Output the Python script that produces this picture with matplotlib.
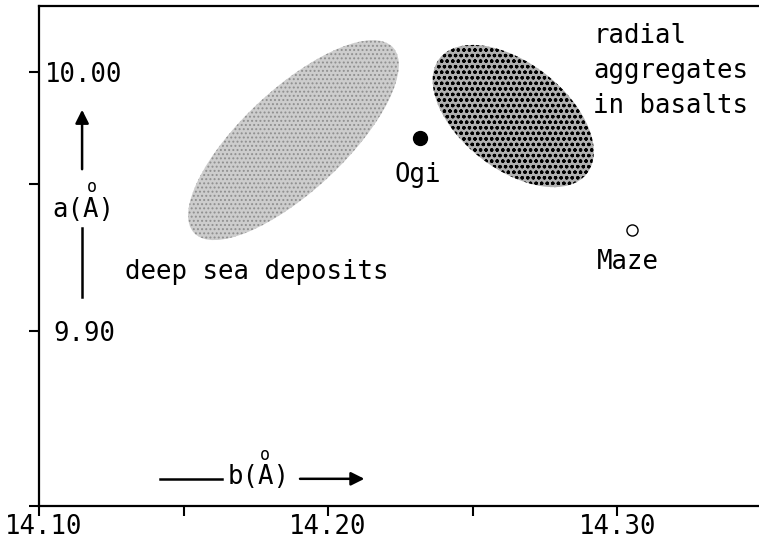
import matplotlib.pyplot as plt
import matplotlib.transforms as mtransforms
from matplotlib.patches import Ellipse

# lattice constants of the named samples, b(A) and a(A)
sample_names = ["Ogi", "Maze"]
sample_b = [14.2318, 14.3052]
sample_a = [9.9745, 9.9390]

# centres of the two shaded fields
field_names = ["deep sea deposits", "radial\naggregates\nin basalts"]
field_b = [14.1880, 14.2640]
field_a = [9.9737, 9.9830]

x_ticks = [14.10, 14.15, 14.20, 14.25, 14.30]
x_labels = ["14.10", "", "14.20", "", "14.30"]
y_ticks = [9.8324, 9.90, 9.9568, 10.00]
y_labels = ["", "9.90", "", "10.00"]

plt.rcParams['font.family'] = ['DejaVu Sans Mono', 'DejaVu Sans']
FS = 18.5


def blob(ax, b, a, w, h, ang, **kw):
    # ellipse sized in inches, centred on a data point
    tr = ax.figure.dpi_scale_trans + mtransforms.ScaledTranslation(b, a, ax.transData)
    e = Ellipse((0, 0), w, h, angle=ang, transform=tr, **kw)
    ax.add_patch(e)
    return e


def main():
    fig = plt.figure(figsize=(7.59, 5.53), dpi=100)
    ax = fig.add_axes([39 / 759, 47 / 553, 1 - 39 / 759, 500 / 553])
    ax.set_xlim(14.10, 14.349)
    ax.set_ylim(9.8324, 10.0255)

    ax.spines['right'].set_visible(False)
    for s in ax.spines.values():
        s.set_linewidth(1.6)

    ax.set_xticks(x_ticks)
    ax.set_xticklabels(x_labels)
    ax.set_yticks(y_ticks)
    ax.set_yticklabels(y_labels)
    ax.tick_params(direction='out', length=7.5, width=1.5, labelsize=FS)
    ax.tick_params(axis='x', pad=-2)
    ax.tick_params(axis='y', pad=-40)
    for lab in ax.get_yticklabels():
        lab.set_ha('center')
    # first x label sits a little right of its tick in the original
    off = mtransforms.ScaledTranslation(0.05, 0, fig.dpi_scale_trans)
    first = ax.get_xticklabels()[0]
    first.set_transform(first.get_transform() + off)

    # shaded fields
    plt.rcParams['hatch.linewidth'] = 0.9
    blob(ax, field_b[0], field_a[0], 2.72, 1.02, 43,
         facecolor='#cdcdcd', edgecolor='#8f8f8f', hatch='....', lw=0, zorder=1)
    blob(ax, field_b[1], field_a[1], 1.87, 1.06, -38,
         facecolor='#b0b0b0', edgecolor='black', hatch='ooo', lw=0, zorder=1)

    # samples
    ax.plot(sample_b[0], sample_a[0], 'o', color='black', ms=10, zorder=3)
    ax.plot(sample_b[1], sample_a[1], 'o', mfc='white', mec='black', ms=8, mew=1, zorder=3)

    ax.text(14.2311, 9.9602, sample_names[0], fontsize=FS, ha='center', va='center')
    ax.text(14.3038, 9.9266, sample_names[1], fontsize=FS, ha='center', va='center')
    ax.text(14.1298, 9.9228, field_names[0], fontsize=FS, ha='left', va='center')
    ax.text(14.2917, 10.0004, field_names[1], fontsize=FS, ha='left', va='center',
            linespacing=1.45)

    # a(A) axis label with arrow
    arr = dict(arrowstyle='-|>', color='black', lw=1.8, mutation_scale=20)
    ax.annotate('', xy=(14.1149, 9.9865), xytext=(14.1149, 9.9614), arrowprops=arr)
    ax.plot([14.1149, 14.1149], [9.9398, 9.9131], color='black', lw=1.8)
    ax.text(14.1154, 9.9467, 'a(A)', fontsize=FS, ha='center', va='center')
    ax.text(14.1183, 9.9556, 'o', fontsize=12, ha='center', va='center')

    # b(A) axis label with arrow
    ax.plot([14.1419, 14.1633], [9.8429, 9.8429], color='black', lw=1.8)
    ax.annotate('', xy=(14.2135, 9.8429), xytext=(14.1893, 9.8429), arrowprops=arr)
    ax.text(14.1758, 9.8437, 'b(A)', fontsize=FS, ha='center', va='center')
    ax.text(14.1782, 9.8521, 'o', fontsize=12, ha='center', va='center')

    fig.savefig('out.png', dpi=100)


if __name__ == '__main__':
    main()
